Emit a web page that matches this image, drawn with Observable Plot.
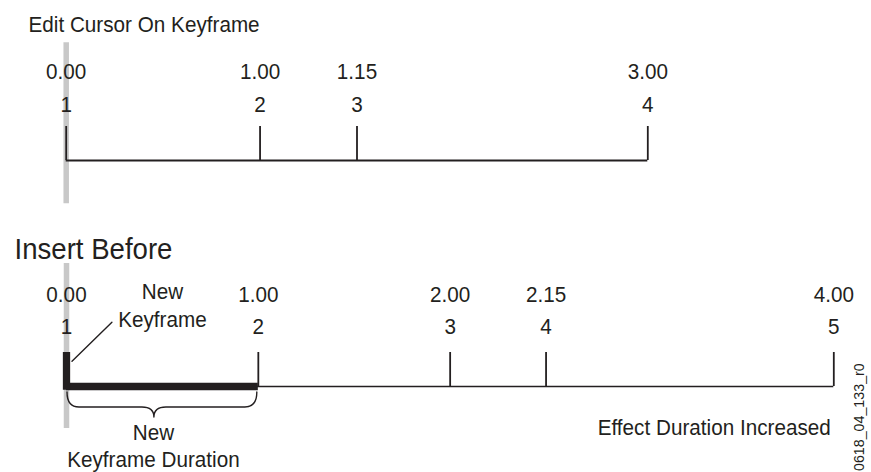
<!DOCTYPE html>
<html>
<head>
<meta charset="utf-8">
<script src="https://cdn.jsdelivr.net/npm/d3@7"></script>
<script src="https://cdn.jsdelivr.net/npm/@observablehq/plot@0.6"></script>
<style>
  html, body { margin: 0; padding: 0; background: #fff; }
  #chart { width: 871px; height: 472px; overflow: hidden; }
  #chart svg { display: block; }
</style>
</head>
<body>
<div id="chart"></div>
<script>
// ---- Data ----
// Top timeline: "Edit Cursor On Keyframe" (timecode s.ff at 30 fps -> seconds)
const topTimecodes = ["0.00", "1.00", "1.15", "3.00"];
const topSeconds   = [0, 1, 1.5, 3];
const topIndices   = ["1", "2", "3", "4"];
// Bottom timeline: "Insert Before"
const bottomTimecodes = ["0.00", "1.00", "2.00", "2.15", "4.00"];
const bottomSeconds   = [0, 1, 2, 2.5, 4];
const bottomIndices   = ["1", "2", "3", "4", "5"];
// Edit cursor and inserted keyframe
const cursorTime = [0];
const newKeyframeDuration = [0, 1];
// Texts
const titles = ["Edit Cursor On Keyframe", "Insert Before"];
const annotations = ["New\nKeyframe", "New\nKeyframe Duration", "Effect Duration Increased"];
const figureId = ["0618_04_133_r0"];

// ---- Styling ----
const ink = "#231f20";
const cursorGray = "#c8c8c8";
const FONT = '"Liberation Sans", Arial, Helvetica, sans-serif';
const FS = 22.5;          // body text size
const CONDENSE = 0.92;    // horizontal condensing of glyphs

const topData = topSeconds.map((t, i) => ({t, code: topTimecodes[i], idx: topIndices[i]}));
const botData = bottomSeconds.map((t, i) => ({t, code: bottomTimecodes[i], idx: bottomIndices[i]}));

const common = {
  width: 871,
  margin: 0,
  style: {fontFamily: FONT, background: "#fff", color: ink, overflow: "visible"}
};
const txt = {fontFamily: FONT, fill: ink};

// y scale unit: pixels above the timeline baseline
const topPlot = Plot.plot({
  ...common,
  height: 222,
  x: {domain: [0, 3], range: [65.7, 647.3], axis: null},
  y: {domain: [0, 34], range: [160, 126], axis: null},
  marks: [
    Plot.ruleX(cursorTime, {x: d => d, y1: -43.3, y2: 117.7, stroke: cursorGray, strokeWidth: 5.5}),
    Plot.ruleY([0], {x1: topSeconds[0], x2: topSeconds[topSeconds.length - 1], stroke: ink, strokeWidth: 1.8}),
    Plot.ruleX(topData, {x: "t", y1: 0, y2: 34, stroke: ink, strokeWidth: 1.8}),
    Plot.text(topData, {...txt, x: "t", y: 81.7, text: "code", fontSize: FS, lineAnchor: "bottom"}),
    Plot.text(topData, {...txt, x: "t", y: 48.3, text: "idx", fontSize: FS, lineAnchor: "bottom"}),
    Plot.text([titles[0]], {...txt, text: d => d, frameAnchor: "top-left", dx: 28, dy: 31, textAnchor: "start", lineAnchor: "bottom", fontSize: FS})
  ]
});

const mid = (newKeyframeDuration[0] + newKeyframeDuration[1]) / 2;

const botPlot = Plot.plot({
  ...common,
  height: 250,
  x: {domain: [0, 4], range: [66, 833.3], axis: null},
  y: {domain: [0, 34], range: [164, 130], axis: null},
  marks: [
    Plot.ruleX(cursorTime, {x: d => d, y1: -42, y2: 123, stroke: cursorGray, strokeWidth: 5.5}),
    Plot.ruleY([0], {x1: bottomSeconds[0], x2: bottomSeconds[bottomSeconds.length - 1], stroke: ink, strokeWidth: 1.5}),
    Plot.ruleX(botData, {x: "t", y1: 0, y2: 34, stroke: ink, strokeWidth: 1.8}),
    // new keyframe: thick bar over its duration and thick marker
    Plot.ruleY([0], {x1: newKeyframeDuration[0], x2: newKeyframeDuration[1], stroke: ink, strokeWidth: 7.5}),
    Plot.ruleX([newKeyframeDuration[0]], {x: d => d, y1: -3.75, y2: 34, stroke: ink, strokeWidth: 7.3}),
    Plot.text(botData, {...txt, x: "t", y: 85, text: "code", fontSize: FS, lineAnchor: "bottom"}),
    Plot.text(botData, {...txt, x: "t", y: 53, text: "idx", fontSize: FS, lineAnchor: "bottom"}),
    // brace and pointer, positioned from the new keyframe's duration via the scales
    (index, {x, y}) => {
      const g = d3.create("svg:g")
        .attr("fill", "none").attr("stroke", ink).attr("stroke-width", 1.4)
        .attr("stroke-linecap", "round").attr("stroke-linejoin", "round");
      const x0 = x(newKeyframeDuration[0]) + 1;
      const x1 = x(newKeyframeDuration[1]) - 1;
      const xm = (x0 + x1) / 2 - 8;
      const y0 = y(-6), y1 = y(-21), y2 = y(-31), r = 12;
      g.append("path").attr("d",
        `M${x0},${y0} Q${x0},${y1} ${x0 + r},${y1} L${xm - r},${y1} Q${xm},${y1} ${xm},${y2} ` +
        `Q${xm},${y1} ${xm + r},${y1} L${x1 - r},${y1} Q${x1},${y1} ${x1},${y0}`);
      g.append("path").attr("d",
        `M${x(newKeyframeDuration[0]) + 6},${y(24.7)} L${x(mid) - 50},${y(63.7)}`);
      return g.node();
    },
    Plot.text([annotations[0]], {...txt, text: d => d, x: mid, y: 59.7,
      lineAnchor: "bottom", lineHeight: 1.23, fontSize: FS}),
    Plot.text([annotations[1]], {...txt, text: d => d, x: mid, dx: -9, y: -80.3,
      lineAnchor: "bottom", lineHeight: 1.18, fontSize: FS}),
    Plot.text([annotations[2]], {...txt, text: d => d, x: bottomSeconds[bottomSeconds.length - 1], dx: -3, y: -48.5,
      textAnchor: "end", lineAnchor: "bottom", fontSize: FS}),
    Plot.text([titles[1]], {...txt, text: d => d, frameAnchor: "top-left", dx: 14, dy: 36.7, textAnchor: "start", lineAnchor: "bottom",
      fontSize: 30}),
    Plot.text(figureId, {...txt, text: d => d, frameAnchor: "bottom-right", dx: -12, dy: -1.5, rotate: -90, textAnchor: "start",
      lineAnchor: "middle", fontSize: 15.5})
  ]
});

const chart = document.getElementById("chart");
chart.append(topPlot, botPlot);
// condense glyphs horizontally (reference uses a condensed face)
d3.select(chart).selectAll("text").each(function() {
  const t = this.getAttribute("transform") || "";
  this.setAttribute("transform", `${t} scale(${CONDENSE},1)`);
});
</script>
</body>
</html>
